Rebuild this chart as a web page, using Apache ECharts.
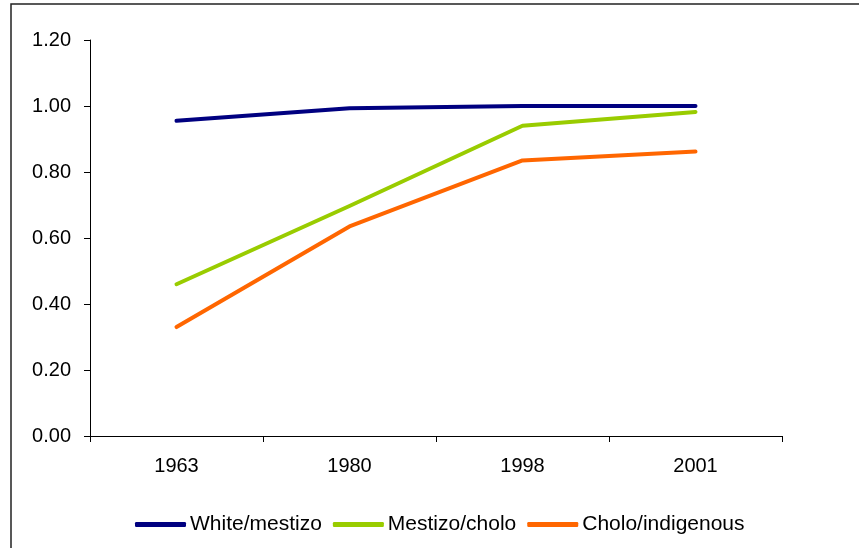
<!DOCTYPE html>
<html>
<head>
<meta charset="utf-8">
<script src="https://cdn.jsdelivr.net/npm/echarts@6/dist/echarts.min.js"></script>
<style>
  html, body { margin: 0; padding: 0; background: #fff; }
  #chart { width: 859px; height: 548px; }
</style>
</head>
<body>
<div id="chart"></div>
<script>
// Survey years along the horizontal axis
const years = ['1963', '1980', '1998', '2001'];

// Ratios for each pair of groups
const whiteMestizo = [0.955, 0.993, 1.0, 1.0];
const mestizoCholo = [0.46, 0.697, 0.94, 0.982];
const choloIndigenous = [0.33, 0.635, 0.835, 0.862];

const seriesNames = ['White/mestizo', 'Mestizo/cholo', 'Cholo/indigenous'];
const seriesColors = ['#000080', '#99CC00', '#FF6600'];
const seriesValues = [whiteMestizo, mestizoCholo, choloIndigenous];

// Value axis ticks
const yMin = 0, yMax = 1.2, yStep = 0.2;

const font = 'Liberation Sans, Arial, sans-serif';

const chart = echarts.init(document.getElementById('chart'), null, { renderer: 'canvas' });

chart.setOption({
  animation: false,
  backgroundColor: '#fff',
  graphic: [{
    type: 'rect',
    shape: { x: 11, y: 4, width: 900, height: 600 },
    style: { fill: 'none', stroke: '#222', lineWidth: 1.5 },
    silent: true,
    z: 100
  }],
  grid: { left: 90, right: 77, top: 40, bottom: 112, containLabel: false },
  legend: {
    top: 509,
    left: 130,
    itemWidth: 51,
    itemHeight: 5,
    itemGap: 11,
    icon: 'roundRect',
    textStyle: { fontFamily: font, fontSize: 21, color: '#000', padding: [0, 0, 0, -1] },
    data: seriesNames
  },
  xAxis: {
    type: 'category',
    data: years,
    boundaryGap: true,
    axisLine: { lineStyle: { color: '#000', width: 1 } },
    axisTick: { show: true, length: 6, inside: false, lineStyle: { color: '#000' } },
    axisLabel: { color: '#000', fontFamily: font, fontSize: 20, margin: 20 },
    splitLine: { show: false }
  },
  yAxis: {
    type: 'value',
    min: yMin,
    max: yMax,
    interval: yStep,
    axisLine: { show: true, lineStyle: { color: '#000', width: 1 } },
    axisTick: { show: true, length: 6, inside: false, lineStyle: { color: '#000' } },
    axisLabel: {
      color: '#000', fontFamily: font, fontSize: 20, margin: 19,
      formatter: v => v.toFixed(2)
    },
    splitLine: { show: false }
  },
  series: seriesNames.map((name, i) => ({
    name: name,
    type: 'line',
    data: seriesValues[i],
    symbol: 'none',
    smooth: false,
    color: seriesColors[i],
    lineStyle: { width: 4, color: seriesColors[i], cap: 'round', join: 'round' },
    itemStyle: { color: seriesColors[i] }
  }))
});
</script>
</body>
</html>
